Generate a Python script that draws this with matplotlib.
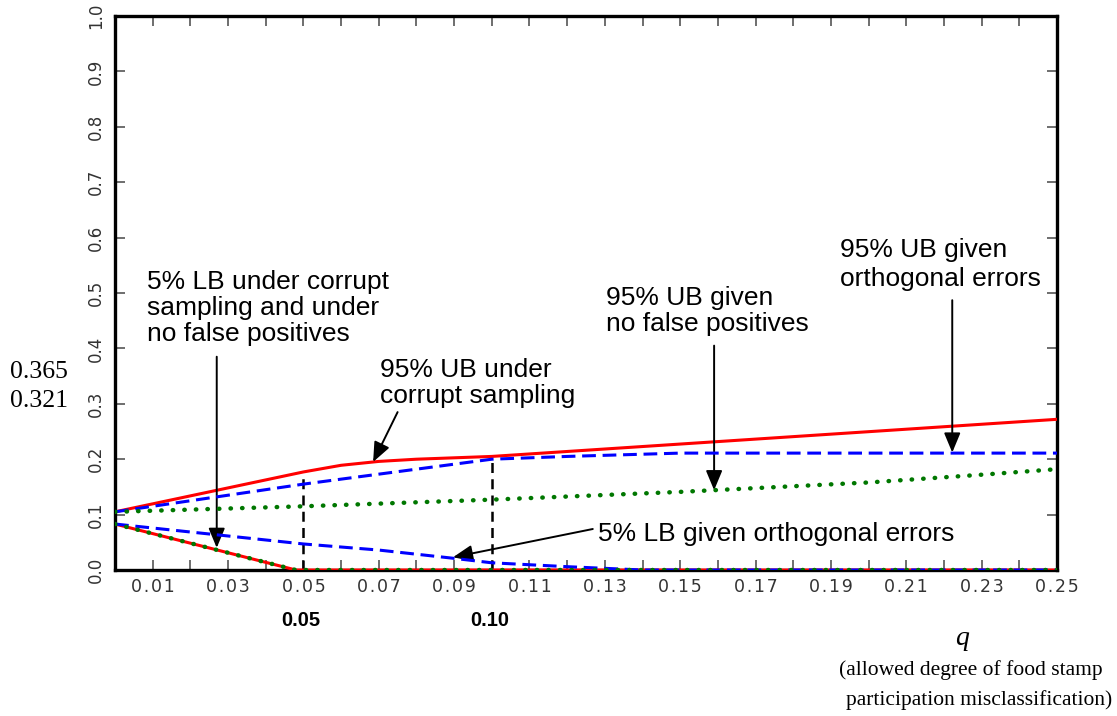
import matplotlib
matplotlib.use("Agg")
import matplotlib.pyplot as plt
import numpy as np

# ---- data ----
q_ub_cs = [0.0, 0.05, 0.06, 0.07, 0.08, 0.10, 0.25]
ub_corrupt = [0.105, 0.177, 0.189, 0.196, 0.200, 0.205, 0.272]

q_lb_cs = [0.0, 0.048, 0.25]
lb_corrupt = [0.083, 0.0, 0.0]

q_ub_orth = [0.0, 0.05, 0.10, 0.12, 0.14, 0.15, 0.25]
ub_orth = [0.105, 0.155, 0.200, 0.205, 0.209, 0.211, 0.211]

q_lb_orth = [0.0, 0.05, 0.07, 0.09, 0.10, 0.12, 0.14, 0.25]
lb_orth = [0.083, 0.047, 0.036, 0.021, 0.013, 0.006, 0.0, 0.0]

q_ub_nfp = [0.0, 0.05, 0.10, 0.15, 0.20, 0.23, 0.25]
ub_nfp = [0.105, 0.115, 0.127, 0.141, 0.158, 0.172, 0.182]

q_lb_nfp = [0.0, 0.048, 0.25]
lb_nfp = [0.083, 0.0, 0.0]

vlines_q = [0.05, 0.10]
vlines_top = [0.177, 0.203]

xtick_labels = ["0.01", "0.03", "0.05", "0.07", "0.09", "0.11", "0.13", "0.15",
                "0.17", "0.19", "0.21", "0.23", "0.25"]
ytick_labels = ["0.0", "0.1", "0.2", "0.3", "0.4", "0.5", "0.6", "0.7", "0.8", "0.9", "1.0"]

fig = plt.figure(figsize=(11.17, 7.16), dpi=100)
W, H = 1117, 716
ax = fig.add_axes([115 / W, 1 - 570 / H, (1057 - 115) / W, (570 - 16) / H])
ax.set_xlim(0, 0.25)
ax.set_ylim(0, 1.0)

ax.plot(q_ub_cs, ub_corrupt, color="#ff0000", lw=2.2, zorder=3)
ax.plot(q_lb_cs, lb_corrupt, color="#ff0000", lw=2.2, zorder=3)
ax.plot(q_ub_orth, ub_orth, color="#0000ff", lw=2.2, ls=(0, (4.5, 2.2)), zorder=4)
ax.plot(q_lb_orth, lb_orth, color="#0000ff", lw=2.2, ls=(0, (4.5, 2.2)), zorder=4)
ax.plot(q_ub_nfp, ub_nfp, color="#007700", lw=3.2, ls=(0, (0.1, 2.5)),
        dash_capstyle="round", zorder=5)
ax.plot(q_lb_nfp, lb_nfp, color="#007700", lw=3.2, ls=(0, (0.1, 2.5)),
        dash_capstyle="round", zorder=5)
for xq, top in zip(vlines_q, vlines_top):
    ax.plot([xq, xq], [0, top], color="black", lw=1.8, ls=(0, (4, 2.5)), zorder=2)

# axes styling
for s in ax.spines.values():
    s.set_linewidth(2.4)
ax.set_xticks(np.arange(0.01, 0.251, 0.02))
ax.set_xticklabels(["\u200a".join(t) for t in xtick_labels], fontfamily="DejaVu Sans",
                   fontsize=12.5, color="#333333")
ax.set_xticks(np.arange(0.0, 0.251, 0.01), minor=True)
ax.set_yticks(np.arange(0, 1.01, 0.1))
ax.set_yticklabels(ytick_labels, rotation=90, va="center", fontfamily="DejaVu Sans",
                   fontsize=12, color="#333333")
ax.tick_params(axis="both", which="both", direction="in", top=True, right=True,
               width=1.2, length=7, color="#555555")
ax.tick_params(axis="x", which="major", pad=6)
ax.tick_params(axis="y", which="major", pad=7)

fs = 19
txt_kw = dict(fontfamily="Liberation Sans", fontsize=fs, color="black")
arrow_kw = dict(arrowstyle="-|>,head_length=1.2,head_width=0.5", color="black", lw=1.4,
                shrinkA=0, shrinkB=0, mutation_scale=10)


def lines_at(x, baselines, lines):
    for b, t in zip(baselines, lines):
        fig.text(x / W, 1 - b / H, t, ha="left", va="baseline", **txt_kw)


ax.annotate("", xy=(0.027, 0.040), xytext=(0.027, 0.385), arrowprops=arrow_kw)
lines_at(147, [289.5, 315.5, 341.5], ["5% LB under corrupt", "sampling and under",
                                      "no false positives"])

ax.annotate("", xy=(0.0685, 0.195), xytext=(0.075, 0.285), arrowprops=arrow_kw)
lines_at(380, [377, 403], ["95% UB under", "corrupt sampling"])

ax.annotate("", xy=(0.159, 0.144), xytext=(0.159, 0.405), arrowprops=arrow_kw)
lines_at(606, [304.5, 331.5], ["95% UB given", "no false positives"])

ax.annotate("", xy=(0.2222, 0.212), xytext=(0.2222, 0.487), arrowprops=arrow_kw)
lines_at(840, [257, 286], ["95% UB given", "orthogonal errors"])

ax.annotate("", xy=(0.0897, 0.023), xytext=(0.1268, 0.074), arrowprops=arrow_kw)
lines_at(598, [541], ["5% LB given orthogonal errors"])

# extra texts
serif = dict(fontfamily="Liberation Serif", color="black")
fig.text(10 / W, 1 - 372 / H, "0.365", ha="left", va="center", fontsize=18.5, **serif)
fig.text(10 / W, 1 - 401 / H, "0.321", ha="left", va="center", fontsize=18.5, **serif)
fig.text(301 / W, 1 - 620 / H, "0.05", ha="center", va="center", fontsize=14.5,
         fontweight="bold", fontfamily="Liberation Sans")
fig.text(490 / W, 1 - 620 / H, "0.10", ha="center", va="center", fontsize=14.5,
         fontweight="bold", fontfamily="Liberation Sans")
fig.text(962 / W, 1 - 645 / H, "q", ha="center", va="baseline", fontsize=20,
         fontstyle="italic", **serif)
fig.text(1103 / W, 1 - 675 / H, "(allowed degree of food stamp", ha="right", va="baseline",
         fontsize=15.5, **serif)
fig.text(1112 / W, 1 - 705 / H, "participation misclassification)", ha="right",
         va="baseline", fontsize=15.5, **serif)

fig.savefig("out.png", dpi=100)
